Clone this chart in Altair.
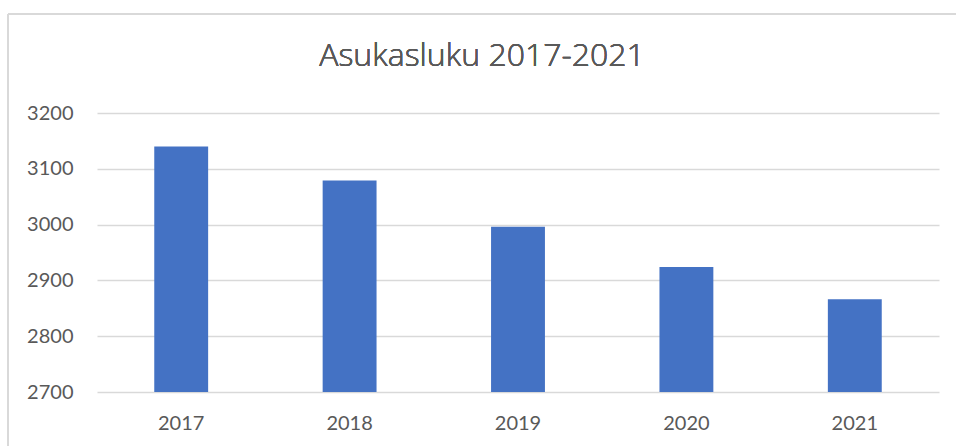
import altair as alt
import pandas as pd

years = ["2017", "2018", "2019", "2020", "2021"]
population = [3140, 3079, 2996, 2924, 2866]
y_ticks = [2700, 2800, 2900, 3000, 3100, 3200]
title_text = "Asukasluku 2017-2021"

df = pd.DataFrame({"year": years, "value": population})

FONT = "Lato"
GREY = "#595959"
GRID = "#d9d9d9"

bars = alt.Chart(df).mark_bar(color="#4472C4").encode(
    x=alt.X("year:N", sort=years,
            scale=alt.Scale(paddingInner=0.68, paddingOuter=0.34),
            axis=alt.Axis(title=None, labelAngle=0, labelFont=FONT, labelFontSize=20,
                          labelColor=GREY, labelPadding=21, ticks=False, domain=False,
                          grid=False)),
    y=alt.Y("value:Q", scale=alt.Scale(domain=[2700, 3200], nice=False, zero=False, clamp=True),
            axis=alt.Axis(title=None, values=y_ticks, format="d", labelFont=FONT, labelFontSize=20,
                          labelColor=GREY, labelPadding=24, ticks=False, domain=False,
                          grid=True, gridColor=GRID, gridWidth=1.5)),
    y2=alt.datum(2700),
)

# light grey chart-area frame (top and left edges visible in reference)
frame_top = alt.Chart(df).mark_rule(color=GRID, strokeWidth=1.5).encode(
    x=alt.value(-89), x2=alt.value(859), y=alt.value(-99))
frame_left = alt.Chart(df).mark_rule(color=GRID, strokeWidth=1.5).encode(
    x=alt.value(-89), y=alt.value(-99), y2=alt.value(333))

title = alt.Chart(df).mark_text(font="Open Sans", fontSize=32, fontWeight=300, color=GREY,
                                align="center", baseline="alphabetic").encode(
    x=alt.value(385), y=alt.value(-47), text=alt.value(title_text))

chart = alt.layer(frame_top, frame_left, title, bars).properties(
    width=842, height=279,
    padding={"left": 97, "top": 113, "right": 17, "bottom": 54},
    autosize=alt.AutoSizeParams(type="none"),
    background="white",
).configure_view(stroke="transparent", strokeWidth=0)

chart.save("out.html", embed_options={"renderer": "svg", "actions": False})
